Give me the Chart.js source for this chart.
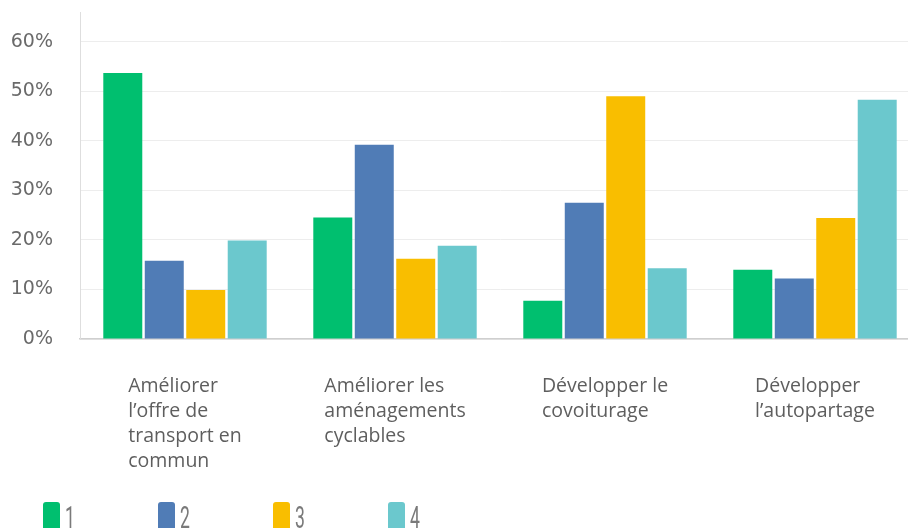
<!DOCTYPE html>
<html>
<head>
<meta charset="utf-8">
<script src="https://cdn.jsdelivr.net/npm/chart.js@4.4.1/dist/chart.umd.min.js"></script>
<style>
  html, body { margin: 0; padding: 0; background: #fff; overflow: hidden; }
  #wrap { width: 930px; height: 528px; }
</style>
</head>
<body>
<div id="wrap"><canvas id="bars" width="930" height="528"></canvas></div>
<script>
// categories (shown on several lines under each group)
var categories = [
    ['Améliorer', 'l’offre de', 'transport en', 'commun'],
    ['Améliorer les', 'aménagements', 'cyclables'],
    ['Développer le', 'covoiturage'],
    ['Développer', 'l’autopartage']
];
var rankNames = ['1', '2', '3', '4'];

// percentage of answers per rank
var rank1 = [53.7, 24.5, 7.7, 14.0];
var rank2 = [15.8, 39.2, 27.5, 12.2];
var rank3 = [9.9, 16.2, 49.0, 24.4];
var rank4 = [19.9, 18.8, 14.3, 48.3];

var yTicks = [0, 10, 20, 30, 40, 50, 60];

var colors = ['#00bf6f', '#507cb6', '#f9be00', '#6bc8cd'];

// multi-line labels, block centred on the group but lines left aligned
var groupLabels = {
    id: 'groupLabels',
    afterDraw: function (chart) {
        var ctx = chart.ctx;
        var xs = chart.scales.x;
        ctx.save();
        ctx.font = '19.5px "Open Sans"';
        ctx.fillStyle = '#5e5e5e';
        ctx.textBaseline = 'alphabetic';
        ctx.textAlign = 'left';
        categories.forEach(function (lines, i) {
            var w = 0;
            lines.forEach(function (l) { w = Math.max(w, ctx.measureText(l).width); });
            var left = xs.getPixelForValue(i) - w / 2;
            lines.forEach(function (l, k) {
                ctx.fillText(l, left, chart.chartArea.bottom + 53 + k * 25);
            });
        });
        ctx.restore();
    }
};

// legend row along the bottom edge
var bottomLegend = {
    id: 'bottomLegend',
    afterDraw: function (chart) {
        var ctx = chart.ctx;
        ctx.save();
        chart.data.datasets.forEach(function (ds, i) {
            var x = 43 + i * 115;
            ctx.fillStyle = ds.backgroundColor;
            ctx.beginPath();
            ctx.roundRect(x, 502, 17, 32, 3);
            ctx.fill();
            ctx.save();
            ctx.translate(x + 22, 528);
            ctx.scale(0.55, 1);
            ctx.font = '32px Roboto';
            ctx.fillStyle = '#7a7a7a';
            ctx.fillText(ds.label, 0, 0);
            ctx.restore();
        });
        ctx.restore();
    }
};

var ctx = document.getElementById('bars').getContext('2d');
var chart = new Chart(ctx, {
    type: 'bar',
    data: {
        labels: categories.map(function (c) { return c.join(' '); }),
        datasets: [rank1, rank2, rank3, rank4].map(function (vals, i) {
            return {
                label: rankNames[i],
                data: vals,
                backgroundColor: colors[i],
                borderWidth: 0,
                barPercentage: 0.94,
                categoryPercentage: 0.79
            };
        })
    },
    options: {
        responsive: false,
        animation: false,
        layout: { padding: { top: 12, right: 10, bottom: 189, left: 0 } },
        plugins: {
            legend: { display: false },
            tooltip: { enabled: false }
        },
        scales: {
            x: {
                ticks: { display: false },
                grid: { display: false, drawTicks: false },
                border: { display: true, color: '#cfcfcf', width: 1.5 }
            },
            y: {
                min: 0,
                max: 66,
                afterBuildTicks: function (s) {
                    s.ticks = yTicks.map(function (v) { return { value: v }; });
                },
                afterFit: function (s) {
                    s.width = 80;
                    s.paddingTop = 0;
                    s.paddingBottom = 0;
                },
                ticks: {
                    padding: 27,
                    color: '#6a6a6a',
                    font: { family: 'DejaVu Sans', size: 19 },
                    callback: function (v) { return v + '%'; }
                },
                grid: { color: '#ededed', drawTicks: false },
                border: { color: '#dedede' }
            }
        }
    },
    plugins: [groupLabels, bottomLegend]
});
</script>
</body>
</html>
